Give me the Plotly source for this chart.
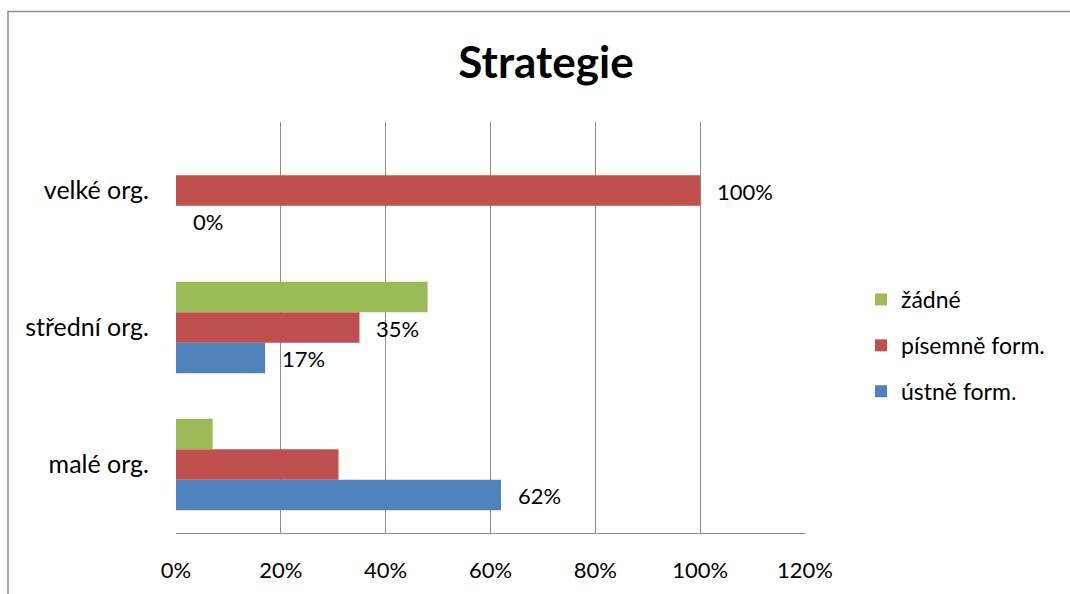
import plotly.graph_objects as go

categories = ["malé org.", "střední org.", "velké org."]
series_names = ["ústně form.", "písemně form.", "žádné"]
ustne = [0.62, 0.17, 0.0]
pisemne = [0.31, 0.35, 1.0]
zadne = [0.07, 0.48, 0.0]
ustne_labels = ["62%", "17%", "0%"]
pisemne_labels = ["", "35%", "100%"]
zadne_labels = ["", "", ""]
colors = ["#4F81BD", "#C0504D", "#9BBB59"]
legend_ranks = [3, 2, 1]
x_ticks = [0, 0.2, 0.4, 0.6, 0.8, 1.0, 1.2]
x_tick_labels = ["0%", "20%", "40%", "60%", "80%", "100%", "120%"]

FONT = "Lato"

L, R, T, B = 176, 805, 122, 533
W, H = 1070, 594
pw, ph = R - L, B - T
bar_px = ph / 3 / 4.5  # pixel height of one bar

fig = go.Figure()
all_vals = [ustne, pisemne, zadne]
all_labels = [ustne_labels, pisemne_labels, zadne_labels]
annotations = []
for i, (name, vals, labels, col, rk) in enumerate(zip(series_names, all_vals, all_labels, colors, legend_ranks)):
    fig.add_trace(go.Bar(
        y=categories, x=vals, name=name, orientation="h",
        marker=dict(color=col, line=dict(width=0)),
        legendgroup=name, legendrank=rk,
    ))
    for cat, v, lab in zip(categories, vals, labels):
        if lab:
            annotations.append(dict(
                x=v, y=cat, xref="x", yref="y", text=lab, showarrow=False,
                xanchor="left", yanchor="middle", xshift=15,
                yshift=(i - 1) * bar_px - 1,
                font=dict(family=FONT, size=22, color="#000000"),
            ))

fig.update_layout(
    width=W, height=H,
    margin=dict(l=L, r=W - R, t=T, b=H - B, pad=0),
    paper_bgcolor="white", plot_bgcolor="white",
    barmode="group", bargap=1 / 3, bargroupgap=0,
    font=dict(family=FONT, size=22, color="#000000"),
    title=dict(text="<b>Strategie</b>", x=546 / W, xanchor="center",
               y=1 - 63 / H, yanchor="middle",
               font=dict(family=FONT, size=44, color="#000000")),
    legend=dict(x=(861 - L) / pw, xanchor="left", y=(B - 278) / ph, yanchor="top",
                traceorder="grouped", tracegroupgap=13,
                font=dict(family=FONT, size=23), bgcolor="rgba(0,0,0,0)",
                itemwidth=30),
    xaxis=dict(range=[0, 1.2], tickvals=x_ticks, ticktext=x_tick_labels,
               showgrid=True, gridcolor="#8c8c8c", gridwidth=1.3,
               showline=True, linecolor="#8c8c8c", linewidth=1.3,
               zeroline=False, ticks="", ticklabelstandoff=17,
               tickfont=dict(family=FONT, size=22), fixedrange=True,
               automargin=False),
    yaxis=dict(showgrid=False, zeroline=False, showline=False, ticks="",
               ticklabelstandoff=26, tickfont=dict(family=FONT, size=25),
               fixedrange=True, automargin=False),
    annotations=annotations,
    showlegend=True,
)

# chart frame
fig.add_shape(type="rect", xref="paper", yref="paper",
              x0=(8 - L) / pw, x1=(1090 - L) / pw,
              y0=(B - 620) / ph, y1=(B - 11.5) / ph,
              line=dict(color="#8c8c8c", width=1.5), fillcolor="rgba(0,0,0,0)",
              layer="below")

fig.write_html("out.html", config={"displayModeBar": False},
               post_script="document.body.style.margin='0';")
